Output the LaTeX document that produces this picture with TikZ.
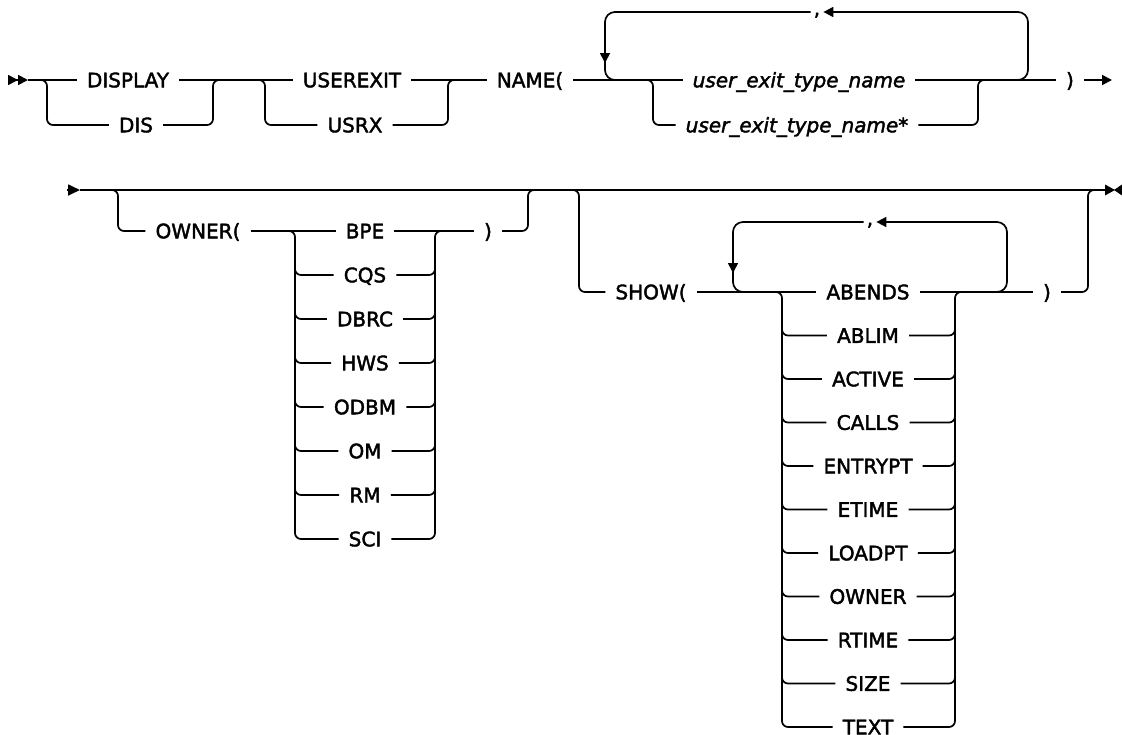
\documentclass[tikz,border=0pt]{standalone}
\usepackage{fontspec}
\setmainfont{DejaVu Sans}
\newfontfamily\railfont{DejaVu Sans}[FakeBold=2]
\usetikzlibrary{arrows.meta}

\tikzset{
  rail/.style={line width=1.7pt, line join=round},
  kw/.style={font=\fontsize{20}{23}\railfont, inner xsep=10pt, inner ysep=0pt,
    text height=14.6pt, text depth=0pt},
  var/.style={kw, font=\fontsize{20}{23}\railfont\itshape},
  sep/.style={kw, inner xsep=3pt},
  tip/.style={-{Triangle[length=10pt,width=10pt]}},
}

\begin{document}
\begin{tikzpicture}[x=1pt, y=-1pt]
    \useasboundingbox (0,0) rectangle (1122,734);

    % first line: keywords
    \node[kw] (display) at (128,80) {DISPLAY};
    \node[kw] (dis) at (136,125) {DIS};
    \node[kw] (userexit) at (352,80) {USEREXIT};
    \node[kw] (usrx) at (355,125) {USRX};
    \node[kw] (name) at (530,80) {NAME(};
    \node[var] (uetn) at (799,80) {user\_exit\_type\_name};
    \node[var] (uetnstar) at (797,125) {user\_exit\_type\_name*};
    \node[sep] (comma1) at (817,12) {\raisebox{4pt}{,}};
    \node[kw] (rparen1) at (1070,80) {)};
    \coordinate (start1) at (28,80);
    \coordinate (end1) at (1112,80);

    % start marker and main rail
    \draw[rail, -{Triangle[length=10pt,width=10pt]Triangle[length=10pt,width=10pt]}] (8,80) -- (start1);
    \draw[rail] (start1) -- (display.west) (display.east) -- (userexit.west)
        (userexit.east) -- (name.west) (name.east) -- (uetn.west) (uetn.east) -- (rparen1.west);
    \draw[rail, tip] (rparen1.east) -- (end1);

    % DISPLAY | DIS
    \draw[rail, rounded corners=6] (38,80) -- (47,80) -- (47,125) -- (dis.west);
    \draw[rail, rounded corners=6] (dis.east) -- (213,125) -- (213,80) -- (222,80);
    % USEREXIT | USRX
    \draw[rail, rounded corners=6] (256,80) -- (265,80) -- (265,125) -- (usrx.west);
    \draw[rail, rounded corners=6] (usrx.east) -- (448,125) -- (448,80) -- (457,80);
    % name choice
    \draw[rail, rounded corners=6] (644,80) -- (653,80) -- (653,125) -- (uetnstar.west);
    \draw[rail, rounded corners=6] (uetnstar.east) -- (978,125) -- (978,80) -- (987,80);
    % repeat loop
    \draw[rail, tip, rounded corners=10] (1012,80) -- (1028,80) -- (1028,12) -- (comma1.east);
    \draw[rail, tip, rounded corners=10] (comma1.west) -- (605,12) -- (605,63);
    \draw[rail, rounded corners=10] (605,55) -- (605,80) -- (621,80);

    % second line
    \coordinate (start2) at (80,190);
    \coordinate (end2) at (1105,190);
    \draw[rail, -{Triangle[length=12pt,width=11pt]}] (67,190) -- (start2);
    \draw[rail] (start2) -- (end2);
    \fill (1105,184.5) -- (1115,190) -- (1105,195.5) -- cycle;
    \fill (1122,184.5) -- (1114,190) -- (1122,195.5) -- cycle;

    % OWNER( ... )
    \node[kw] (owner) at (198,231) {OWNER(};
    \node[kw] (rparen2) at (488,231) {)};
    \foreach \lbl [count=\i from 0] in {BPE,CQS,DBRC,HWS,ODBM,OM,RM,SCI}
        \node[kw] (o\i) at (365,{231+44*\i}) {\lbl};
    \draw[rail, rounded corners=6] (109,190) -- (118,190) -- (118,231) -- (owner.west);
    \draw[rail] (owner.east) -- (o0.west) (o0.east) -- (rparen2.west);
    \draw[rail, rounded corners=6] (rparen2.east) -- (528,231) -- (528,190) -- (537,190);
    \draw[rail, rounded corners=6] (286,231) -- (295,231) -- (295,539) -- (o7.west);
    \draw[rail, rounded corners=6] (o7.east) -- (435,539) -- (435,231) -- (444,231);
    \foreach \i in {1,...,6} {
        \draw[rail, rounded corners=6] (295,{231+44*\i-12}) -- (295,{231+44*\i}) -- (o\i.west);
        \draw[rail, rounded corners=6] (o\i.east) -- (435,{231+44*\i}) -- (435,{231+44*\i-12});
    }

    % SHOW( ... )
    \node[kw] (show) at (651,292) {SHOW(};
    \node[kw] (rparen3) at (1047,292) {)};
    \node[sep] (comma2) at (870,222) {\raisebox{4pt}{,}};
    \foreach \lbl [count=\i from 0] in {ABENDS,ABLIM,ACTIVE,CALLS,ENTRYPT,ETIME,LOADPT,OWNER,RTIME,SIZE,TEXT}
        \node[kw] (s\i) at (868,{292+43.5*\i}) {\lbl};
    \draw[rail, rounded corners=6] (570,190) -- (579,190) -- (579,292) -- (show.west);
    \draw[rail] (show.east) -- (s0.west) (s0.east) -- (rparen3.west);
    \draw[rail, rounded corners=6] (rparen3.east) -- (1088,292) -- (1088,190) -- (1097,190);
    \draw[rail, rounded corners=6] (773,292) -- (782,292) -- (782,727) -- (s10.west);
    \draw[rail, rounded corners=6] (s10.east) -- (955,727) -- (955,292) -- (964,292);
    \foreach \i in {1,...,9} {
        \draw[rail, rounded corners=6] (782,{292+43.5*\i-12}) -- (782,{292+43.5*\i}) -- (s\i.west);
        \draw[rail, rounded corners=6] (s\i.east) -- (955,{292+43.5*\i}) -- (955,{292+43.5*\i-12});
    }
    % repeat loop
    \draw[rail, tip, rounded corners=10] (990,292) -- (1007,292) -- (1007,222) -- (comma2.east);
    \draw[rail, tip, rounded corners=10] (comma2.west) -- (733,222) -- (733,273);
    \draw[rail, rounded corners=10] (733,265) -- (733,292) -- (749,292);
\end{tikzpicture}
\end{document}
